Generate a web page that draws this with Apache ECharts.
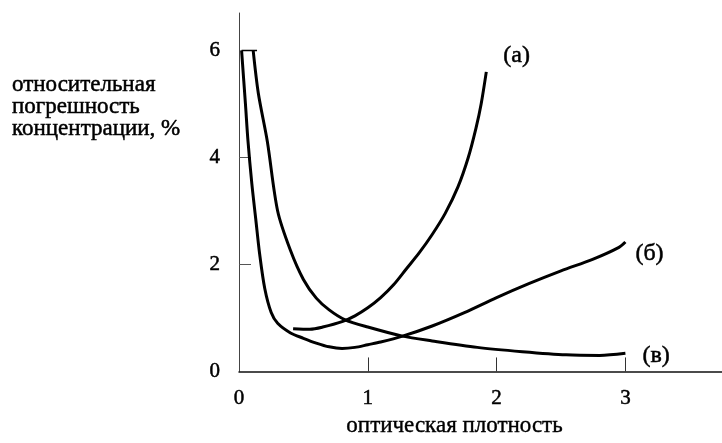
<!DOCTYPE html>
<html><head><meta charset="utf-8">
<script src="https://cdn.jsdelivr.net/npm/echarts@6/dist/echarts.min.js"></script>
<style>html,body{margin:0;padding:0;background:#fff}#c{width:722px;height:443px}</style>
</head><body><div id="c"></div>
<script>
const xTickLabels = [0, 1, 2, 3];
const yTickLabels = [0, 2, 4, 6];
const seriesNames = ['(а)', '(б)', '(в)'];
const curveA = [[0.42,0.8],[0.55,0.79],[0.65,0.83],[0.8,0.93],[0.9,1.04],[1.0,1.19],[1.1,1.38],[1.2,1.62],[1.3,1.92],[1.4,2.22],[1.5,2.56],[1.6,2.95],[1.7,3.45],[1.78,4.0],[1.84,4.55],[1.88,5.0],[1.92,5.6]];
const curveB = [[0.02,6.0],[0.05,5.0],[0.07,4.3],[0.1,3.5],[0.13,2.85],[0.16,2.2],[0.2,1.55],[0.25,1.1],[0.3,0.9],[0.4,0.72],[0.5,0.62],[0.6,0.53],[0.7,0.46],[0.8,0.43],[0.9,0.45],[1.0,0.5],[1.1,0.55],[1.27,0.66],[1.5,0.85],[1.75,1.1],[2.0,1.38],[2.25,1.64],[2.5,1.88],[2.75,2.1],[2.95,2.32],[3.0,2.42]];
const curveV = [[0.11,6.0],[0.15,5.2],[0.22,4.3],[0.3,3.0],[0.4,2.26],[0.5,1.72],[0.6,1.37],[0.7,1.15],[0.82,0.97],[1.0,0.83],[1.27,0.66],[1.5,0.57],[1.85,0.45],[2.2,0.37],[2.54,0.31],[2.8,0.3],[3.0,0.34]];
const capLine = [[0.02,6.0],[0.14,6.0]];
const xTitle = 'оптическая плотность';
const yTitleLines = ['относительная', 'погрешность', 'концентрации, %'];

const serif = '"Liberation Serif", "DejaVu Serif", serif';
const chart = echarts.init(document.getElementById('c'));
const lineStyle = {color: '#000', width: 3};
function curve(name, data, off) {
  return {
    type: 'line', name, data, smooth: 0.3, showSymbol: false, silent: true,
    lineStyle, animation: false,
    endLabel: {show: true, formatter: name, color: '#000', fontFamily: serif, fontSize: 24,
      textBorderColor: '#000', textBorderWidth: 0.5, offset: off}
  };
}
const titleStyle = {fontFamily: serif, fontSize: 23, fill: '#000', stroke: '#000', lineWidth: 0.5, textVerticalAlign: 'middle'};
chart.setOption({
  animation: false,
  grid: {left: 239, top: 13, right: 0, bottom: 68, containLabel: false},
  xAxis: {
    type: 'value', min: 0, max: 3.75, interval: 1,
    axisLine: {lineStyle: {color: '#111', width: 1.5}},
    axisTick: {show: true, inside: true, length: 14, customValues: [1, 2, 3], lineStyle: {color: '#333', width: 1}},
    axisLabel: {customValues: xTickLabels, color: '#000', fontFamily: serif, fontSize: 21, margin: 17,
      textBorderColor: '#000', textBorderWidth: 0.5},
    splitLine: {show: false},
    name: xTitle, nameLocation: 'middle', nameGap: 42,
    nameTextStyle: {color: '#000', fontFamily: serif, fontSize: 23, textBorderColor: '#000', textBorderWidth: 0.4,
      padding: [0, 52, 0, 0]}
  },
  yAxis: {
    type: 'value', min: 0, max: 6.7, interval: 2,
    axisLine: {show: true, lineStyle: {color: '#444', width: 1}},
    axisTick: {show: true, inside: true, length: 12, customValues: [2, 4], lineStyle: {color: '#555', width: 1}},
    axisLabel: {customValues: yTickLabels, color: '#000', fontFamily: serif, fontSize: 21, margin: 19,
      textBorderColor: '#000', textBorderWidth: 0.5},
    splitLine: {show: false}
  },
  graphic: yTitleLines.map((t, i) => ({
    type: 'text', x: 12, y: 85 + i * 22,
    style: Object.assign({text: t}, titleStyle)
  })),
  series: [
    curve(seriesNames[0], curveA, [9, -16]),
    curve(seriesNames[1], curveB, [2, 12]),
    curve(seriesNames[2], curveV, [9, 2]),
    {type: 'line', data: capLine, showSymbol: false, silent: true, lineStyle: {color: '#000', width: 1.5}}
  ]
});
</script></body></html>
